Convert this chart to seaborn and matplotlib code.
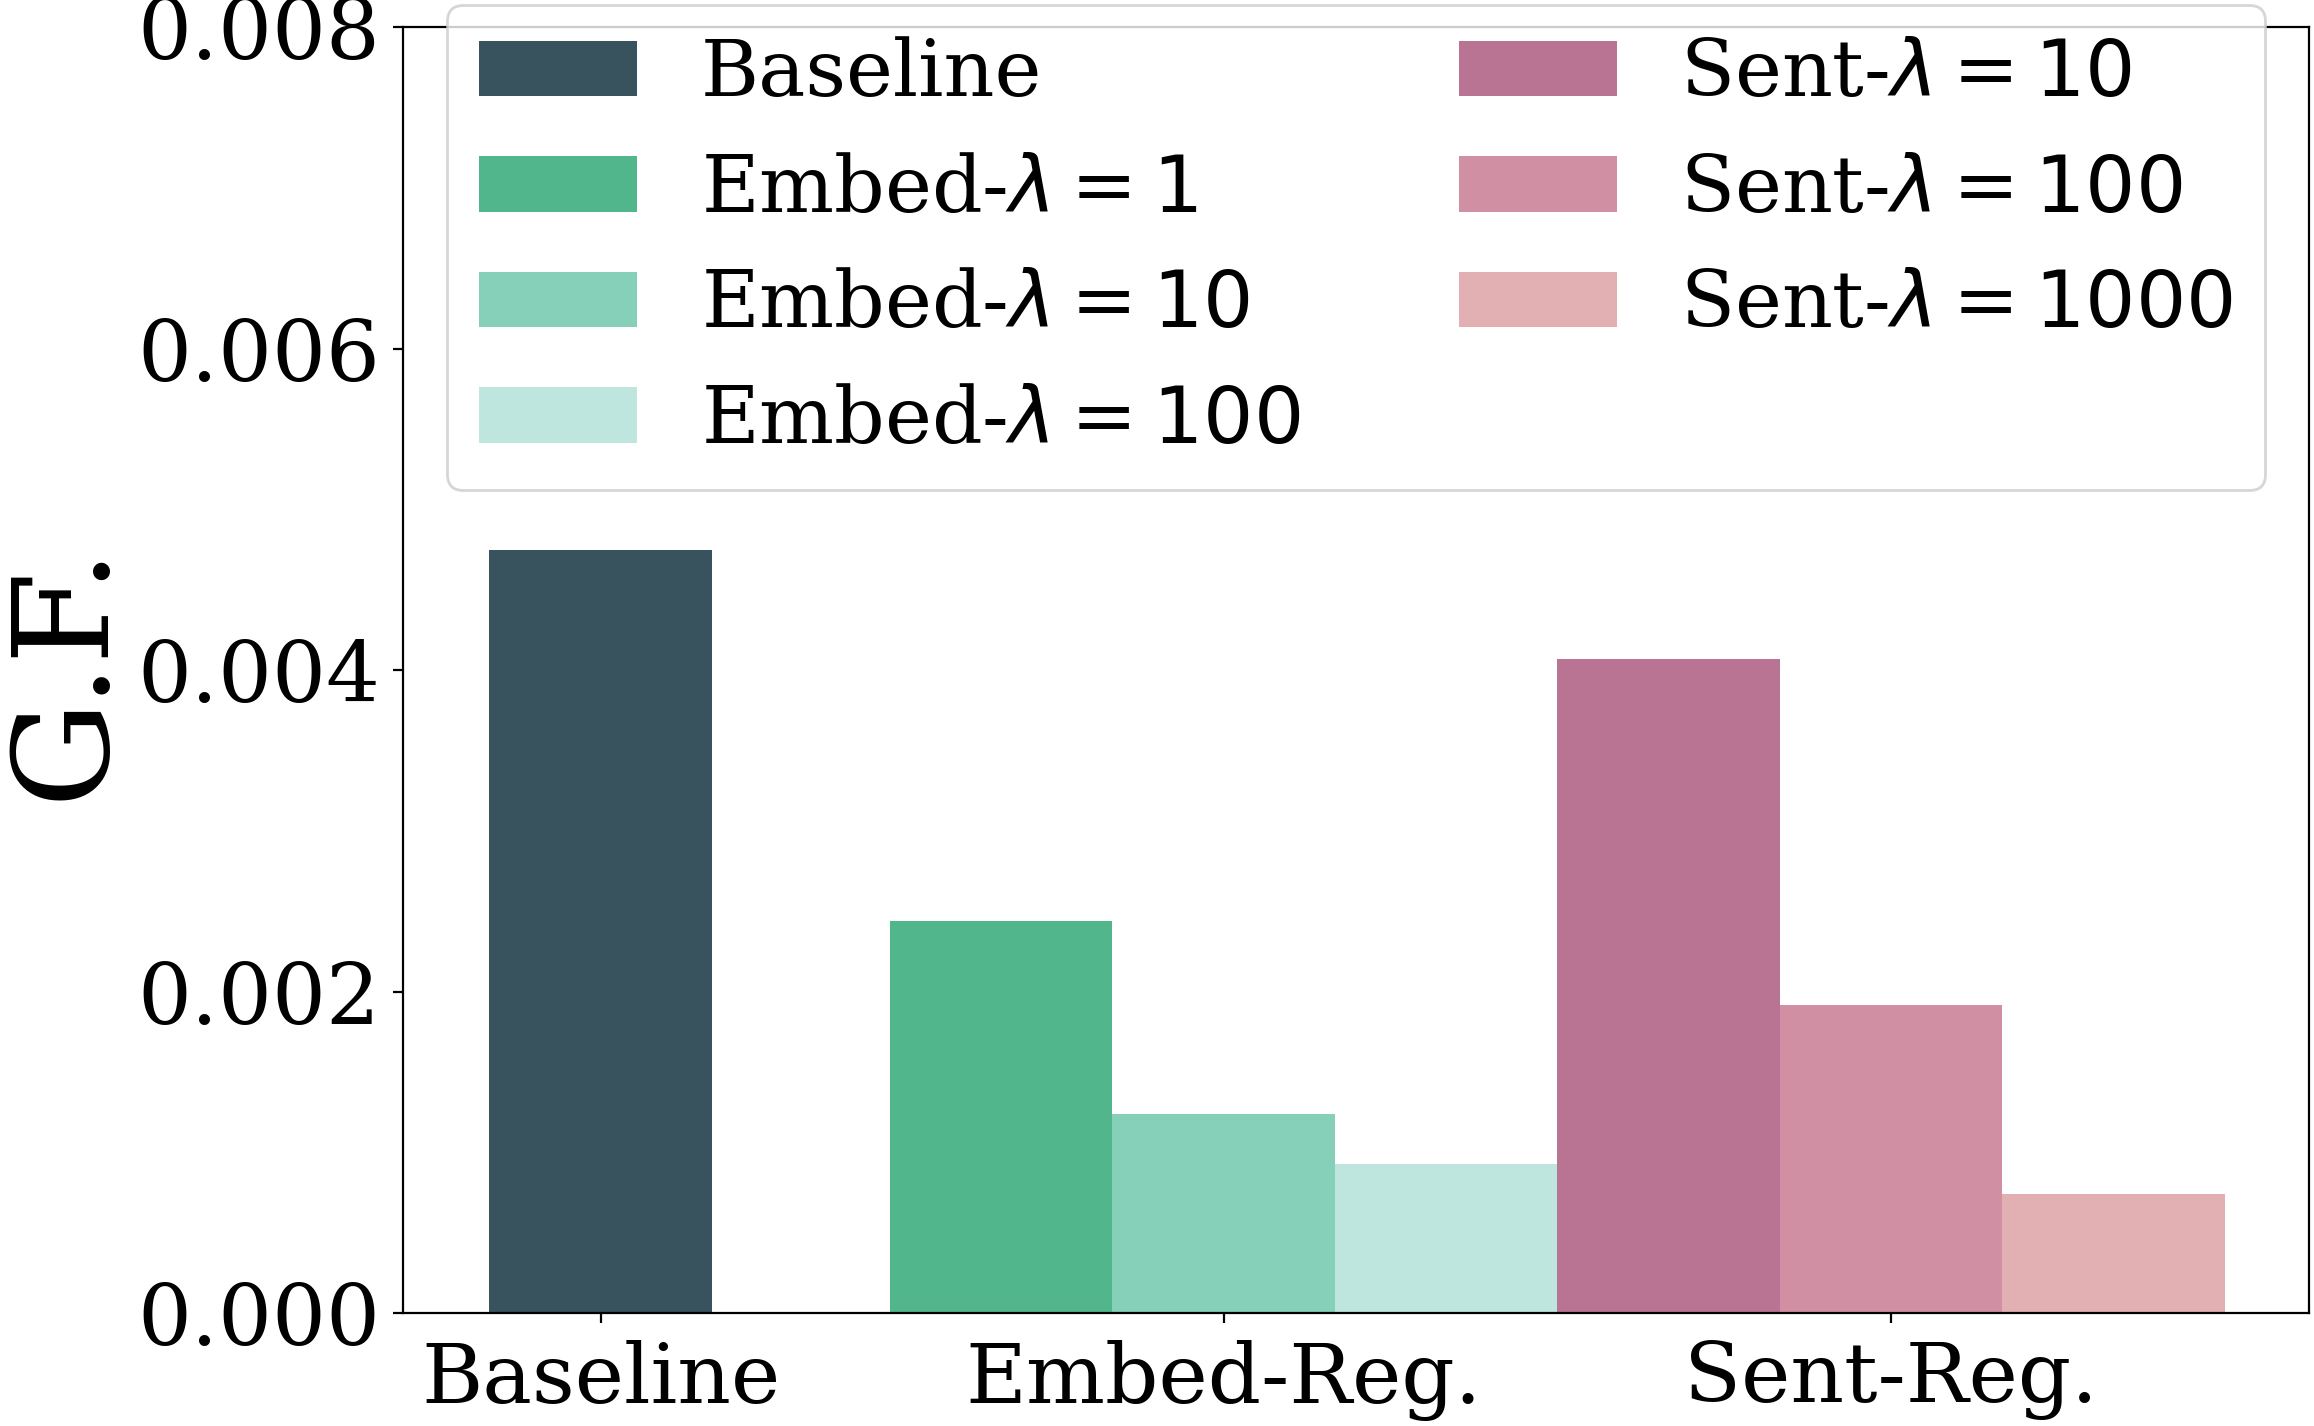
import numpy as np
import pandas as pd
import matplotlib
matplotlib.use('Agg')
import matplotlib.pyplot as plt
import seaborn as sns

# 데이터
groups = ['Baseline', 'Embed-Reg.', 'Embed-Reg.', 'Embed-Reg.', 'Sent-Reg.', 'Sent-Reg.', 'Sent-Reg.']
methods = ['Baseline',
           r'Embed-$\lambda = 1$', r'Embed-$\lambda = 10$', r'Embed-$\lambda = 100$',
           r'Sent-$\lambda = 10$', r'Sent-$\lambda = 100$', r'Sent-$\lambda = 1000$']
gf_values = [0.00475, 0.00244, 0.00124, 0.00093, 0.00407, 0.00192, 0.00074]
colors = ['#38535E', '#52B68C', '#86CFB9', '#BEE6DE', '#B97393', '#D08FA3', '#E2B0B2']
tick_labels = ['Baseline', 'Embed-Reg.', 'Sent-Reg.']

plt.rcParams['font.family'] = 'serif'
plt.rcParams['font.serif'] = ['DejaVu Serif']

df = pd.DataFrame({'group': groups, 'method': methods, 'gf': gf_values})
# 막대 위치: baseline 뒤에 간격을 두고 나머지 막대는 붙여서 배치
gap = 0.8
df['pos'] = [i + (gap if i > 0 else 0) for i in range(len(df))]
df['pos'] = df['pos'].round(3)

fig, ax = plt.subplots(figsize=(11.57, 7.13), dpi=200)
sns.barplot(data=df, x='pos', y='gf', hue='method', hue_order=methods,
            palette=colors, dodge=False, native_scale=True, width=1,
            saturation=1, errorbar=None, linewidth=0, ax=ax)

# 각 그룹의 가운데 막대에 눈금
tick_pos = df.groupby('group', sort=False)['pos'].median().values
ax.set_xticks(tick_pos)
ax.set_xticklabels(tick_labels, fontsize=30)
ax.set_xlim(df['pos'].min() - 0.89, df['pos'].max() + 0.88)

ax.set_ylim(0, 0.008)
ax.set_yticks([0, 0.002, 0.004, 0.006, 0.008])
ax.set_yticklabels(['%.3f' % v for v in [0, 0.002, 0.004, 0.006, 0.008]], fontsize=30.5)
ax.tick_params(axis='x', pad=6)
ax.tick_params(axis='y', pad=4.5)
ax.set_xlabel('')
ax.set_ylabel('G.F.', fontsize=48, labelpad=3)

ax.legend(loc='upper center', bbox_to_anchor=(0.5, 1.048), ncol=2, fontsize=28.5)

fig.subplots_adjust(left=0.174, right=0.998, top=0.981, bottom=0.079)
plt.savefig('out.png', dpi=200)
